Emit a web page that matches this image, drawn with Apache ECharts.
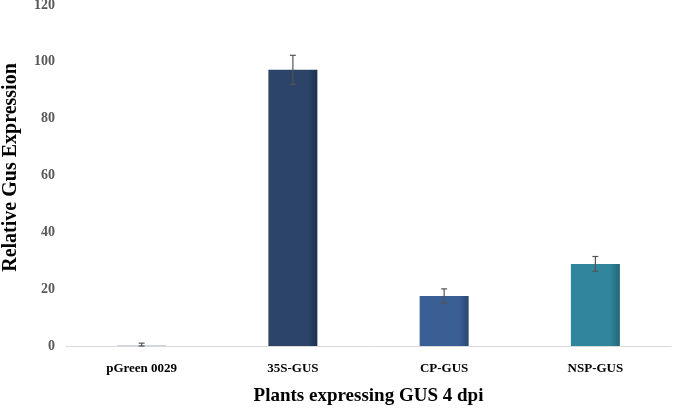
<!DOCTYPE html>
<html><head><meta charset="utf-8">
<script src="https://cdn.jsdelivr.net/npm/echarts@6/dist/echarts.min.js"></script>
<style>html,body{margin:0;padding:0;background:#fff}#c{width:675px;height:409px}</style>
</head><body><div id="c"></div>
<script>
var categories = ['pGreen 0029', '35S-GUS', 'CP-GUS', 'NSP-GUS'];
var values = [0.1, 97.2, 17.6, 28.9];
var errors = [0.9, 5.1, 2.5, 2.6];
var yTicks = [0, 20, 40, 60, 80, 100, 120];
var barColors = [['#3a5f95','#2a4a70'], ['#2b4468','#1d3150'], ['#3a5f95','#2a4670'], ['#31859c','#246677']];

function grad(c){
  return new echarts.graphic.LinearGradient(0,0,1,0,[
    {offset:0,color:c[0]},{offset:0.8,color:c[0]},{offset:1,color:c[1]}]);
}
var chart = echarts.init(document.getElementById('c'));
chart.setOption({
  animation:false,
  grid:{left:66,right:4,top:5,bottom:63,outerBoundsMode:'none',containLabel:false},
  xAxis:{type:'category',data:categories,
    axisLine:{lineStyle:{color:'#d9d9d9',width:1}},axisTick:{show:false},
    axisLabel:{color:'#000',fontFamily:'Liberation Serif',fontWeight:'bold',fontSize:13,margin:16},
    name:'Plants expressing GUS 4 dpi',nameLocation:'middle',nameGap:41,
    nameTextStyle:{color:'#000',fontFamily:'Liberation Serif',fontWeight:'bold',fontSize:19}},
  yAxis:{type:'value',min:0,max:120,interval:20,
    splitLine:{show:false},axisLine:{show:false},axisTick:{show:false},
    axisLabel:{color:'#595959',fontFamily:'Liberation Serif',fontWeight:'bold',fontSize:14,margin:11,
      formatter:function(v){return yTicks.indexOf(v)>=0?String(v):'';}},
    name:'Relative Gus Expression',nameLocation:'middle',nameGap:45,
    nameTextStyle:{color:'#000',fontFamily:'Liberation Serif',fontWeight:'bold',fontSize:20,padding:[0,0,0,16]}},
  series:[
    {type:'bar',barWidth:49,
     data:values.map(function(v,i){return {value:v,itemStyle:{color:grad(barColors[i])}};})},
    {type:'custom',z:10,
     data:values.map(function(v,i){return [i,v-errors[i],v+errors[i]];}),
     renderItem:function(params,api){
       var x=api.value(0);
       var lo=api.coord([x,Math.max(0,api.value(1))]);
       var hi=api.coord([x,api.value(2)]);
       var w=3;
       var st={stroke:'#555',lineWidth:1.2};
       return {type:'group',children:[
         {type:'line',shape:{x1:hi[0],y1:hi[1],x2:lo[0],y2:lo[1]},style:st},
         {type:'line',shape:{x1:hi[0]-w,y1:hi[1],x2:hi[0]+w,y2:hi[1]},style:st},
         {type:'line',shape:{x1:lo[0]-w,y1:lo[1],x2:lo[0]+w,y2:lo[1]},style:st}
       ]};
     }}
  ]
});
</script></body></html>
